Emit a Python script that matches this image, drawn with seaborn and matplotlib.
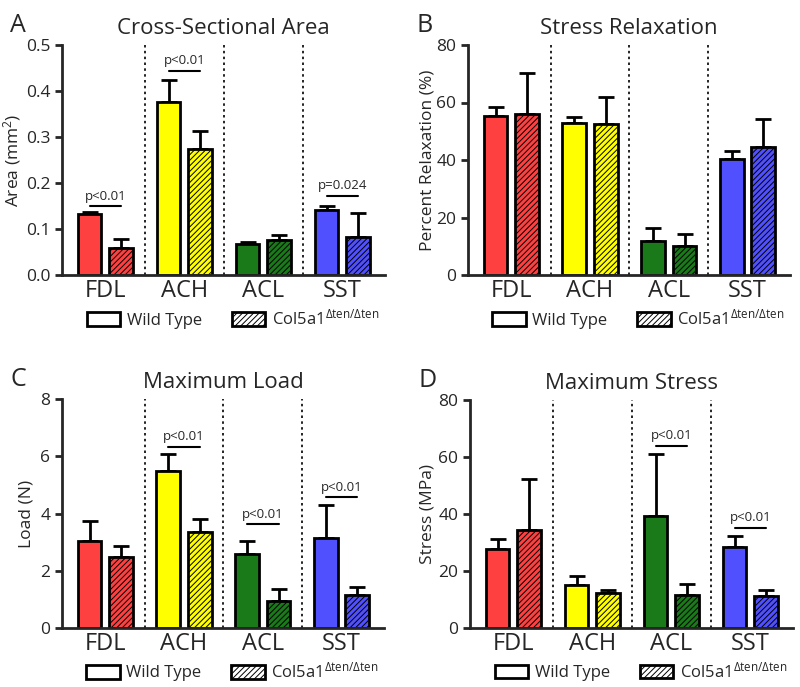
import numpy as np
import pandas as pd
import matplotlib
matplotlib.use("Agg")
import matplotlib.pyplot as plt
import seaborn as sns
from matplotlib.patches import Patch

sns.set_style("ticks")
plt.rcParams['font.family'] = ['Open Sans', 'DejaVu Sans']
plt.rcParams['mathtext.fontset'] = 'custom'
plt.rcParams['mathtext.rm'] = 'Open Sans'
plt.rcParams['mathtext.it'] = 'Open Sans:italic'
plt.rcParams['hatch.linewidth'] = 0.7

tendons = ['FDL', 'ACH', 'ACL', 'SST']
genotypes = ['Wild Type', 'Col5a1']
colors = ['#ff4040', '#ffff00', '#1a7a1a', '#5050ff']

# mean and upper error (SD) for each panel, wild type then mutant
area_wt = [0.132, 0.377, 0.067, 0.141]
area_wt_err = [0.004, 0.048, 0.004, 0.010]
area_mu = [0.058, 0.275, 0.076, 0.082]
area_mu_err = [0.020, 0.039, 0.012, 0.052]

relax_wt = [55.3, 52.8, 11.9, 40.2]
relax_wt_err = [3.3, 2.3, 4.4, 3.0]
relax_mu = [55.9, 52.5, 10.1, 44.6]
relax_mu_err = [14.2, 9.3, 4.0, 9.7]

load_wt = [3.03, 5.49, 2.58, 3.14]
load_wt_err = [0.71, 0.59, 0.47, 1.16]
load_mu = [2.47, 3.35, 0.95, 1.14]
load_mu_err = [0.41, 0.45, 0.41, 0.28]

stress_wt = [27.6, 15.1, 39.4, 28.3]
stress_wt_err = [3.6, 3.3, 21.6, 4.1]
stress_mu = [34.4, 12.2, 11.6, 11.4]
stress_mu_err = [18.0, 1.2, 4.0, 2.0]

# significance brackets: (tendon index, height, label)
area_sig = [(0, 0.150, 'p<0.01'), (1, 0.444, 'p<0.01'), (3, 0.172, 'p=0.024')]
relax_sig = []
load_sig = [(1, 6.33, 'p<0.01'), (2, 3.63, 'p<0.01'), (3, 4.56, 'p<0.01')]
stress_sig = [(2, 64.0, 'p<0.01'), (3, 35.2, 'p<0.01')]

panels = [
    ('A', 'Cross-Sectional Area', 'Area (mm$^2$)', area_wt, area_wt_err, area_mu, area_mu_err,
     area_sig, 0.5, [0.0, 0.1, 0.2, 0.3, 0.4, 0.5], '{:.1f}'),
    ('B', 'Stress Relaxation', 'Percent Relaxation (%)', relax_wt, relax_wt_err, relax_mu, relax_mu_err,
     relax_sig, 80, [0, 20, 40, 60, 80], '{:.0f}'),
    ('C', 'Maximum Load', 'Load (N)', load_wt, load_wt_err, load_mu, load_mu_err,
     load_sig, 8, [0, 2, 4, 6, 8], '{:.0f}'),
    ('D', 'Maximum Stress', 'Stress (MPa)', stress_wt, stress_wt_err, stress_mu, stress_mu_err,
     stress_sig, 80, [0, 20, 40, 60, 80], '{:.0f}'),
]

W, H = 800, 687
# axes box in pixels (left, top, right, bottom) and y-label anchor in axes coords
positions = [
    (62, 45, 385, 275, -0.121),
    (468, 45, 790, 275, -0.102),
    (62, 399, 384, 628, -0.084),
    (470, 400, 793, 628, -0.108),
]

fig = plt.figure(figsize=(8, 6.87), dpi=100)

for (label, title, ylabel, wt, wt_err, mu, mu_err, sig, ymax, yticks, fmt), (l, t, r, b, lx) in zip(panels, positions):
    ax = fig.add_axes([l / W, 1 - b / H, (r - l) / W, (b - t) / H])
    df = pd.DataFrame({
        'tendon': tendons * 2,
        'genotype': [genotypes[0]] * 4 + [genotypes[1]] * 4,
        'value': wt + mu,
    })
    sns.barplot(data=df, x='tendon', y='value', hue='genotype', order=tendons,
                hue_order=genotypes, width=0.8, gap=0.25, errorbar=None,
                edgecolor='black', linewidth=2, legend=False, ax=ax, zorder=2)

    # bars come out grouped by hue: first 4 wild type, next 4 mutant
    bars = list(ax.patches)[:8]
    centers = {}
    for i, p in enumerate(bars):
        g = i // 4
        k = i % 4
        p.set_facecolor(colors[k])
        if g == 1:
            p.set_hatch('//////')
        cx = p.get_x() + p.get_width() / 2
        centers[(g, k)] = cx
        err = (wt_err if g == 0 else mu_err)[k]
        val = (wt if g == 0 else mu)[k]
        ax.errorbar(cx, val, yerr=[[0], [err]], fmt='none', ecolor='black',
                    elinewidth=2, capsize=6, capthick=2, zorder=1)

    for xd in [0.5, 1.5, 2.5]:
        ax.axvline(xd, ymin=0, ymax=1, color='black', linestyle=(0, (1.5, 2)), linewidth=1.2, zorder=0)

    for k, h, txt in sig:
        x0 = centers[(0, k)]
        x1 = centers[(1, k)]
        ax.plot([x0, x1], [h, h], color='black', linewidth=1.5, clip_on=False)
        ax.text((x0 + x1) / 2, h + ymax * 0.015, txt, ha='center', va='bottom', fontsize=9.5)

    ax.set_xlim(-0.55, 3.54)
    ax.set_ylim(0, ymax)
    ax.set_yticks(yticks)
    ax.set_yticklabels([fmt.format(v) for v in yticks], fontsize=12.5)
    ax.tick_params(axis='y', width=2, length=5)
    ax.tick_params(axis='x', length=0, labelsize=17, pad=3)
    ax.set_xlabel('')
    ax.set_ylabel(ylabel, fontsize=12.5)
    ax.yaxis.set_label_coords(lx, 0.5)
    for s in ['top', 'right']:
        ax.spines[s].set_visible(False)
    for s in ['left', 'bottom']:
        ax.spines[s].set_linewidth(2)
    ax.set_title(title, fontsize=16, pad=8)
    ax.text(-0.16, 1.03, label, transform=ax.transAxes, fontsize=18, ha='left', va='bottom')

    handles = [
        Patch(facecolor='white', edgecolor='black', linewidth=2, label='Wild Type'),
        Patch(facecolor='white', edgecolor='black', linewidth=2, hatch='//////',
              label='Col5a1$^{\\Delta\\mathrm{ten}/\\Delta\\mathrm{ten}}$'),
    ]
    ax.legend(handles=handles, loc='center', bbox_to_anchor=(0.53, -0.19), ncol=2,
              frameon=False, fontsize=12, handlelength=2.0, handleheight=0.9,
              columnspacing=1.8, handletextpad=0.4)

fig.savefig('out.png', dpi=100)
